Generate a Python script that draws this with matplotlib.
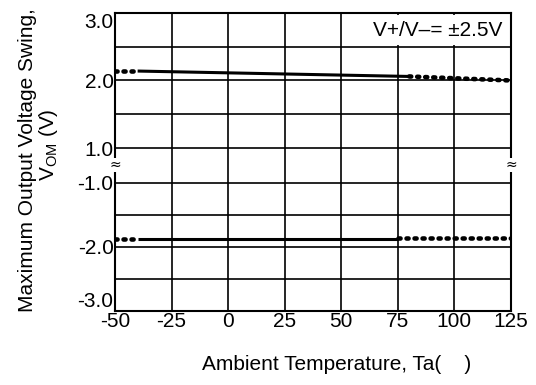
import matplotlib
matplotlib.use("Agg")
import matplotlib.pyplot as plt

plt.rcParams['font.family'] = ['Liberation Sans', 'DejaVu Sans']

# data
temps_ticks = [-50, -25, 0, 25, 50, 75, 100, 125]
top_ticks = [1.0, 1.5, 2.0, 2.5, 3.0]
bot_ticks = [-3.0, -2.5, -2.0, -1.5, -1.0]
top_labels = ['1.0', '', '2.0', '', '3.0']
bot_labels = ['-3.0', '', '-2.0', '', '-1.0']

# positive swing (V+)
pos_dot1_t = [-50, -40]
pos_dot1_v = [2.14, 2.14]
pos_solid_t = [-40, 80]
pos_solid_v = [2.14, 2.06]
pos_dot2_t = [80, 125]
pos_dot2_v = [2.06, 2.00]

# negative swing (V-)
neg_dot1_t = [-50, -40]
neg_dot1_v = [-1.88, -1.88]
neg_solid_t = [-40, 75]
neg_solid_v = [-1.88, -1.88]
neg_dot2_t = [75, 125]
neg_dot2_v = [-1.86, -1.86]

W, H = 536, 385
fig = plt.figure(figsize=(W / 100, H / 100), dpi=100)

L, R = 115, 511
top_y0, split, bot_y1 = 13, 165, 311

def rect(y_top, y_bot):
    return [L / W, 1 - y_bot / H, (R - L) / W, (y_bot - y_top) / H]

ax_t = fig.add_axes(rect(top_y0, split))
ax_b = fig.add_axes(rect(split, bot_y1))

fs = 15
dot_style = dict(color='black', lw=3.3, linestyle=(0, (0.45, 1.3)), dash_capstyle='round')
solid_style = dict(color='black', lw=2.2, solid_capstyle='butt')

for ax in (ax_t, ax_b):
    ax.set_xlim(-50, 125)
    ax.set_xticks(temps_ticks)
    ax.grid(True, color='black', lw=1.2)
    ax.set_axisbelow(True)
    ax.tick_params(length=0, labelsize=fs, pad=1)
    for s in ax.spines.values():
        s.set_linewidth(1.5)

ax_t.set_ylim(1.0 - 17 / 67.5, 3.0)
ax_t.set_yticks(top_ticks)
ax_t.set_yticklabels(top_labels)
ax_t.set_xticklabels([])
ax_t.spines['bottom'].set_visible(False)

ax_b.set_ylim(-3.0, -1.0 + 18 / 64)
ax_b.set_yticks(bot_ticks)
ax_b.set_yticklabels(bot_labels)
ax_b.set_xticklabels([str(t) for t in temps_ticks])
ax_b.spines['top'].set_visible(False)

tl = ax_t.get_yticklabels()
tl[4].set_va('top')      # 3.0
bl = ax_b.get_yticklabels()
bl[0].set_va('bottom')   # -3.0

ax_t.plot(pos_solid_t, pos_solid_v, **solid_style)
ax_t.plot(pos_dot1_t, pos_dot1_v, **dot_style)
ax_t.plot(pos_dot2_t, pos_dot2_v, **dot_style)

ax_b.plot(neg_solid_t, neg_solid_v, **solid_style)
ax_b.plot(neg_dot1_t, neg_dot1_v, **dot_style)
ax_b.plot(neg_dot2_t, neg_dot2_v, **dot_style)

# condition label
fig.text(502 / W, 1 - 30 / H, 'V+/V\u2013= \u00b12.5V',
         ha='right', va='center', fontsize=fs,
         bbox=dict(facecolor='white', edgecolor='none', pad=4))

# axis break marks
for xp in (L, R):
    fig.text(xp / W, 1 - 165 / H, '\u2248', ha='center', va='center',
             fontsize=10, family=['DejaVu Sans'],
             bbox=dict(facecolor='white', edgecolor='none', pad=0.2))

fig.text(28 / W, 1 - 160 / H, 'Maximum Output Voltage Swing,', rotation=90,
         ha='center', va='center', fontsize=fs)
fig.text(48 / W, 1 - 145 / H, 'V$_{\\mathregular{OM}}$ (V)', rotation=90,
         ha='center', va='center', fontsize=fs)
fig.text(337 / W, 1 - 364 / H, 'Ambient Temperature, Ta(    )',
         ha='center', va='center', fontsize=fs)

fig.savefig('out.png', dpi=100)
